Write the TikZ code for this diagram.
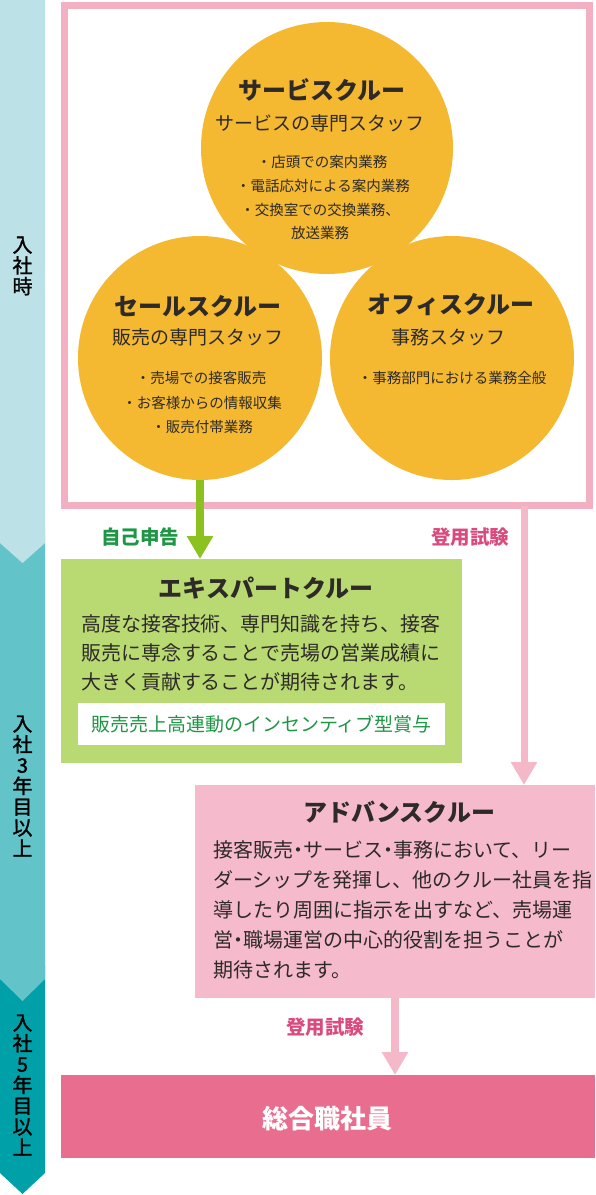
\documentclass[tikz,border=0pt]{standalone}
\usepackage{fontspec}
\setmainfont{Noto Sans CJK JP}
\newfontfamily\jpmid{Noto Sans CJK JP}[FakeBold=1.3]
\usetikzlibrary{arrows.meta}
\definecolor{barA}{HTML}{BCE2E8}
\definecolor{barB}{HTML}{62C4C9}
\definecolor{barC}{HTML}{00A0A8}
\definecolor{framepink}{HTML}{F4B0C3}
\definecolor{circ}{HTML}{F4B930}
\definecolor{grarr}{HTML}{8CC21F}
\definecolor{grbox}{HTML}{B9DA72}
\definecolor{grtext}{HTML}{1F9645}
\definecolor{pklabel}{HTML}{D94B7E}
\definecolor{advbox}{HTML}{F5BACB}
\definecolor{pkarr}{HTML}{F5B8C9}
\definecolor{finalbox}{HTML}{E96D8E}
\definecolor{ink}{HTML}{2E2A28}
\newcommand\jpsize[1]{\fontsize{#1}{#1}\selectfont}
\newcommand\hdot{\makebox[0.5em][c]{・}}
\begin{document}
\begin{tikzpicture}[x=1pt,y=-1pt,
  every node/.style={inner sep=0pt, outer sep=0pt},
  bartext/.style={align=center, text=black, font=\jpmid\fontsize{20}{20.8}\selectfont},
  crew/.style={circle, fill=circ, minimum size=#1},
  ttl/.style={text=ink, font=\bfseries\jpsize{24}},
  sub/.style={text=ink, font=\jpsize{19}},
  bul/.style={text=ink, font=\jpsize{14.5}},
  body/.style={text=ink, font=\jpsize{20}, anchor=west},
  lbl/.style={font=\bfseries\jpsize{19.5}},
  grarrow/.style={draw=grarr, line width=8pt, -{Triangle[width=25pt,length=23pt]}},
  pkarrow/.style={draw=pkarr, line width=7pt, -{Triangle[width=25pt,length=23pt]}},
]
\useasboundingbox (0,0) rectangle (595,1195);
% left bar
\fill[barC] (0,965) -- (45,965) -- (45,1173) -- (22.5,1194) -- (0,1173) -- cycle;
\fill[barB] (0,528) -- (45,528) -- (45,979) -- (22.5,1001) -- (0,979) -- cycle;
\fill[barA] (0,0) -- (45,0) -- (45,543) -- (22.5,563) -- (0,543) -- cycle;
\node[bartext] (stage1) at (22.5,266) {入\\社\\時};
\node[bartext] (stage2) at (22.5,786) {入\\社\\3\\年\\目\\以\\上};
\node[bartext] (stage3) at (22.5,1085) {入\\社\\5\\年\\目\\以\\上};

% frame
\node[draw=framepink, line width=7pt, minimum width=524.5pt, minimum height=500pt] (frame) at (326.75,255.5) {};

% circles
\node[crew=252pt] (svc) at (327,148) {};
\node[crew=244pt] (sale) at (200,358) {};
\node[crew=244pt] (office) at (452,358) {};

\node[ttl] (svcT) at (322,90) {サービスクルー};
\node[sub] (svcS) at (320,123) {サービスの専門スタッフ};
\node[bul] (svc1) at (322,162) {・店頭での案内業務};
\node[bul] (svc2) at (323,186) {・電話応対による案内業務};
\node[bul] (svc3) at (320,210) {・交換室での交換業務、};
\node[bul] (svc4) at (320,233) {放送業務};

\node[ttl] (saleT) at (198,306) {セールスクルー};
\node[sub] (saleS) at (198,337) {販売の専門スタッフ};
\node[bul] (sale1) at (201,378) {・売場での接客販売};
\node[bul] (sale2) at (202,403) {・お客様からの情報収集};
\node[bul] (sale3) at (202,427) {・販売付帯業務};

\node[ttl] (offT) at (451,305) {オフィスクルー};
\node[sub] (offS) at (448,337) {事務スタッフ};
\node[bul] (off1) at (452,378) {・事務部門における業務全般};

% expert box
\node[fill=grbox, minimum width=401pt, minimum height=204pt] (expert) at (261.5,661) {};
\node[ttl] (expT) at (266,588) {エキスパートクルー};
\node[body] (exp1) at (81,624) {高度な接客技術、専門知識を持ち、接客};
\node[body] (exp2) at (81,653) {販売に専念することで売場の営業成績に};
\node[body] (exp3) at (81,682) {大きく貢献することが期待されます。};
\node[fill=white, minimum width=367pt, minimum height=42pt, text=grtext, font=\jpsize{19}] (bonus) at (261.5,724) {販売売上高連動のインセンティブ型賞与};

% advance box
\node[fill=advbox, minimum width=400pt, minimum height=213pt] (adv) at (395,891.5) {};
\node[ttl] (advT) at (399,812) {アドバンスクルー};
\node[body] (adv1) at (213,850) {接客販売\hdot サービス\hdot 事務において、リー};
\node[body] (adv2) at (213,880) {ダーシップを発揮し、他のクルー社員を指};
\node[body] (adv3) at (213,910) {導したり周囲に指示を出すなど、売場運};
\node[body] (adv4) at (213,940) {営\hdot 職場運営の中心的役割を担うことが};
\node[body] (adv5) at (213,970) {期待されます。};

% final box
\node[fill=finalbox, minimum width=534pt, minimum height=83pt] (final) at (328,1116.5) {};
\node[text=white, font=\bfseries\jpsize{26}] (finalT) at (327,1119) {総合職社員};

% connectors
\coordinate (c1) at (524,0);
\coordinate (c2) at (395,0);
\draw[grarrow] (sale.south) -- (sale.south |- expert.north);
\draw[pkarrow] (frame.south -| c1) -- (adv.north -| c1);
\draw[pkarrow, line width=8pt] (adv.south -| c2) -- (final.north -| c2);

\node[lbl, text=grtext] (selfL) at (140,537) {自己申告};
\node[lbl, text=pklabel] (exam1) at (470,537) {登用試験};
\node[lbl, text=pklabel] (exam2) at (325,1027) {登用試験};
\end{tikzpicture}
\end{document}
